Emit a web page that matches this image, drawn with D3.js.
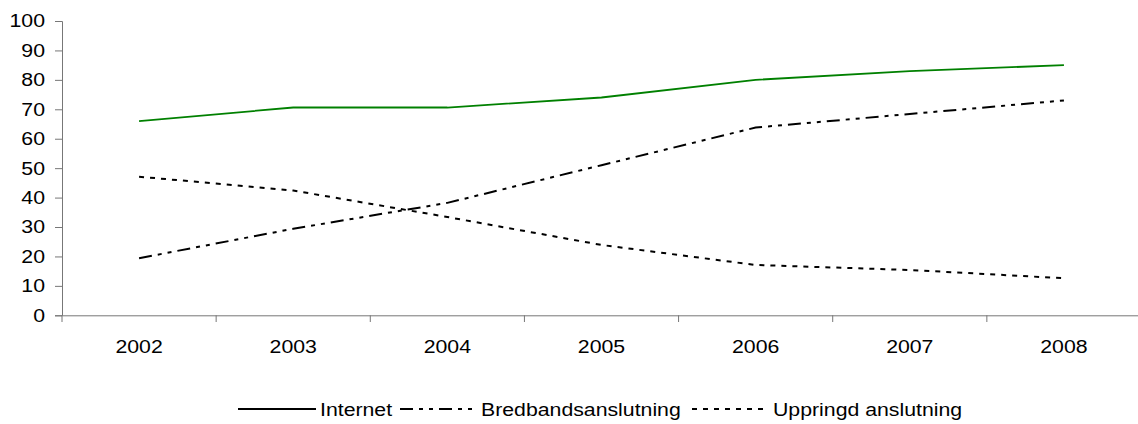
<!DOCTYPE html>
<html><head><meta charset="utf-8">
<script src="https://cdn.jsdelivr.net/npm/d3@7"></script>
<style>body{margin:0;background:#fff}svg{display:block}text{font-family:"Liberation Sans",Arial,sans-serif}</style>
</head><body>
<svg id="c" width="1138" height="424"></svg>
<script>
const years = ["2002","2003","2004","2005","2006","2007","2008"];
const internet = [66, 70.6, 70.6, 74, 80, 83, 85];
const bredband = [19.4, 29.4, 38.2, 51, 63.8, 68.4, 73];
const uppringd = [47.1, 42.4, 33.4, 23.9, 17.1, 15.4, 12.6];
const yTicks = [0,10,20,30,40,50,60,70,80,90,100];
const seriesNames = ["Internet","Bredbandsanslutning","Uppringd anslutning"];

const FS = 18.5, SX = 1.15;
const svg = d3.select("#c");
const x = d3.scaleBand().domain(years).range([62, 1141]);
const y = d3.scaleLinear().domain([0,100]).range([315.3, 21]);

const axisColor = "#777";
const yAxis = svg.append("g").attr("transform","translate(62,0)")
  .call(d3.axisLeft(y).tickValues(yTicks).tickSize(7).tickPadding(10));
yAxis.select(".domain").attr("stroke",axisColor);
yAxis.selectAll(".tick line").attr("stroke",axisColor);
yAxis.selectAll("text").attr("font-size",FS).attr("fill","#000")
  .attr("font-family","Liberation Sans, Arial, sans-serif")
  .attr("x",-17/SX).attr("transform",`scale(${SX},1)`);

const xAxis = svg.append("g").attr("transform","translate(0,315.3)")
  .call(d3.axisBottom(x).tickSize(0).tickPadding(0));
xAxis.select(".domain").attr("stroke",axisColor);
xAxis.selectAll("text").attr("font-size",FS).attr("fill","#000")
  .attr("font-family","Liberation Sans, Arial, sans-serif")
  .attr("y",38).attr("dy",null).attr("transform",`scale(${SX},1)`);
svg.append("g").selectAll("line").data(years).join("line")
  .attr("x1",d=>x(d)).attr("x2",d=>x(d)).attr("y1",315.3).attr("y2",322)
  .attr("stroke",axisColor);

const line = d3.line().x((d,i)=>x(years[i])+x.bandwidth()/2).y(d=>y(d));
const styles = [
  {data:internet, stroke:"#008000", w:1.8, dash:null},
  {data:bredband, stroke:"#000", w:2, dash:"13,6,4,6,4,6"},
  {data:uppringd, stroke:"#000", w:2, dash:"5,6"}
];
styles.forEach(s=>{
  svg.append("path").attr("d",line(s.data)).attr("fill","none")
    .attr("stroke",s.stroke).attr("stroke-width",s.w)
    .attr("stroke-dasharray",s.dash);
});

const leg = [
  {x1:238,x2:316,tx:320},
  {x1:400,x2:476,tx:481},
  {x1:692,x2:769,tx:773}
];
leg.forEach((l,i)=>{
  const s = styles[i];
  svg.append("line").attr("x1",l.x1).attr("x2",l.x2).attr("y1",409).attr("y2",409)
    .attr("stroke", i===0 ? "#000" : s.stroke).attr("stroke-width",2).attr("stroke-dasharray",s.dash);
  svg.append("text").attr("transform",`translate(${l.tx},415.5) scale(${SX},1)`)
    .attr("font-size",FS).text(seriesNames[i]);
});
</script>
</body></html>
